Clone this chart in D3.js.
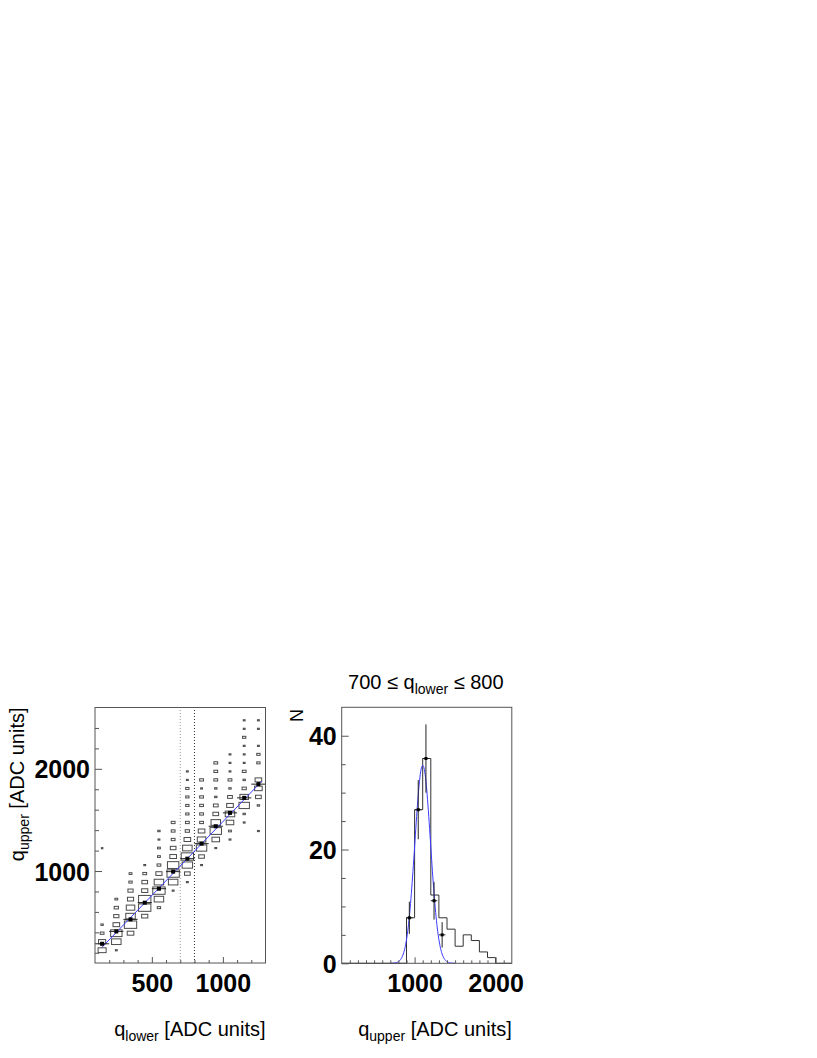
<!DOCTYPE html>
<html><head><meta charset="utf-8">
<script src="https://cdn.jsdelivr.net/npm/d3@7"></script>
<style>body{margin:0;background:#fff}</style>
</head><body>
<svg id="c" width="817" height="1058"></svg>
<script>
// ---------- data: left panel (2D box histogram) ----------
const xBinsLeft = [150, 250, 350, 450, 550, 650, 750, 850, 950, 1050, 1150, 1250];
const yBinCount = 30;                 // q_upper bins from 100 to 2600
// per x-bin: [yBinIndex, content]
const cellCounts = [
  [[1,17],[2,15],[3,8],[4,5],[13,3]],
  [[1,4],[2,20],[3,24],[4,14],[5,11],[6,9],[7,6]],
  [[3,14],[4,26],[5,20],[6,18],[7,13],[8,11],[9,7],[10,6]],
  [[5,13],[6,26],[7,26],[8,13],[9,12],[10,8],[11,4]],
  [[6,7],[7,20],[8,26],[9,20],[10,13],[11,8],[12,6],[13,6],[14,4],[15,5]],
  [[8,4],[9,20],[10,26],[11,24],[12,14],[13,12],[14,8],[15,8],[16,8]],
  [[9,4],[10,12],[11,22],[12,26],[13,20],[14,14],[15,9],[16,8],[17,7],[18,7],[19,7],[20,7],[21,4],[22,4]],
  [[11,4],[12,12],[13,22],[14,18],[15,14],[16,8],[17,8],[18,8],[19,8],[20,4],[21,8]],
  [[13,4],[14,16],[15,24],[16,20],[17,12],[18,10],[19,5],[20,5],[21,8],[22,8],[23,8]],
  [[14,4],[15,6],[16,16],[17,20],[18,14],[19,10],[20,5],[21,8],[22,4],[23,4],[24,4]],
  [[16,4],[17,5],[18,22],[19,18],[20,9],[21,5],[22,8],[23,4],[24,4],[25,4],[26,7],[27,4],[28,4]],
  [[15,4],[18,5],[19,12],[20,16],[21,14],[23,7],[24,7],[25,4],[27,4],[28,4]]
];
const profileMeans = [288, 409, 527, 690, 827, 994, 1121, 1268, 1438, 1569, 1716, 1850];
const fitIntercept = 38, fitSlope = 1.445, fitRange = [150, 1275];
const sliceLimits = [700, 800];
const leftXTickLabels = [500, 1000];
const leftYTickLabels = [1000, 2000];

// ---------- data: right panel (1D histogram of the slice) ----------
const histEdgesStart = 100, histBinWidth = 100;
const histCounts = [0,0,0,0,0,0,0,0,8,27,36,12,8,6,3,5,4,2,1,0,0];
const pointsX = [935, 1045, 1140, 1240, 1340];
const pointsY = [8, 27, 36, 11, 5];
const gaussAmp = 34.8, gaussMean = 1100, gaussSigma = 97, gaussRange = [700, 1500];
const rightXTickLabels = [1000, 2000];
const rightYTickLabels = [0, 20, 40];

// ---------- drawing ----------
const svg = d3.select("#c");
const FONT = "'Liberation Sans', Arial, Helvetica, sans-serif";
const frameColor = "#555";

function ticks(g, scale, orient, values, len, labels, labelFmt) {
  const ax = (orient === "bottom" ? d3.axisBottom(scale) : d3.axisLeft(scale))
    .tickValues(values).tickSize(-len).tickFormat(labels ? labelFmt : "");
  g.call(ax);
  g.select(".domain").remove();
  g.selectAll("line").attr("stroke", frameColor);
  g.selectAll("text").attr("fill", "#000").attr("font-family", FONT)
    .attr("font-weight", "bold").attr("font-size", 25);
  return g;
}

// ===== LEFT PANEL =====
const xL = d3.scaleLinear().domain([100, 1300]).range([95, 265.5]);
const yL = d3.scaleLinear().domain([100, 2600]).range([963, 707.5]);
const yBinW = 2500 / yBinCount;
const L = svg.append("g");

// boxes
const cMax = 30;
const bw = xL(200) - xL(100), bh = yL(100) - yL(100 + yBinW);
const cells = [];
cellCounts.forEach((col, i) => col.forEach(([k, c]) => cells.push({x: xBinsLeft[i], k, c})));
L.append("g").selectAll("rect").data(cells).join("rect")
  .attr("x", d => xL(d.x) - bw * d.c / cMax / 2)
  .attr("y", d => yL(100 + (d.k + 0.5) * yBinW) - bh * d.c / cMax / 2)
  .attr("width", d => Math.max(1.5, bw * d.c / cMax))
  .attr("height", d => Math.max(1.2, bh * d.c / cMax))
  .attr("fill", "none").attr("stroke", "#4a4a4a").attr("stroke-width", 1);

// slice lines
L.append("line").attr("x1", xL(sliceLimits[0])).attr("x2", xL(sliceLimits[0]))
  .attr("y1", yL(100)).attr("y2", yL(2600)).attr("stroke", "#999").attr("stroke-dasharray", "1,2");
L.append("line").attr("x1", xL(sliceLimits[1])).attr("x2", xL(sliceLimits[1]))
  .attr("y1", yL(100)).attr("y2", yL(2600)).attr("stroke", "#333").attr("stroke-dasharray", "1,2");

// fit line
L.append("line").attr("x1", xL(fitRange[0])).attr("y1", yL(fitIntercept + fitSlope * fitRange[0]))
  .attr("x2", xL(fitRange[1])).attr("y2", yL(fitIntercept + fitSlope * fitRange[1]))
  .attr("stroke", "#3a3aff").attr("stroke-width", 1);

// profile points
const prof = xBinsLeft.map((x, i) => ({x, y: profileMeans[i]}));
L.append("g").selectAll("line").data(prof).join("line")
  .attr("x1", d => xL(d.x - 50)).attr("x2", d => xL(d.x + 50))
  .attr("y1", d => yL(d.y)).attr("y2", d => yL(d.y)).attr("stroke", "#222");
L.append("g").selectAll("rect").data(prof).join("rect")
  .attr("x", d => xL(d.x) - 2).attr("y", d => yL(d.y) - 2).attr("width", 4).attr("height", 4)
  .attr("fill", "#000");

// frame
L.append("rect").attr("x", xL(100)).attr("y", yL(2600))
  .attr("width", xL(1300) - xL(100)).attr("height", yL(100) - yL(2600))
  .attr("fill", "none").attr("stroke", frameColor);

// ticks
ticks(L.append("g").attr("transform", `translate(0,${yL(100)})`), xL, "bottom",
  d3.range(200, 1300, 100).filter(v => !leftXTickLabels.includes(v)), 3, false);
const lx = ticks(L.append("g").attr("transform", `translate(0,${yL(100)})`), xL, "bottom",
  leftXTickLabels, 6, true, d3.format("d"));
lx.selectAll("text").attr("y", 29).attr("dy", 0);
ticks(L.append("g").attr("transform", `translate(${xL(100)},0)`), yL, "left",
  d3.range(200, 2600, 200).filter(v => !leftYTickLabels.includes(v)), 4, false);
const ly = ticks(L.append("g").attr("transform", `translate(${xL(100)},0)`), yL, "left",
  leftYTickLabels, 7, true, d3.format("d"));
ly.selectAll("text").attr("x", -5).attr("dy", "0.36em");

// titles
const xtL = L.append("text").attr("x", xL(1300)).attr("y", 1036).attr("text-anchor", "end")
  .attr("font-family", FONT).attr("font-size", 20);
xtL.append("tspan").text("q");
xtL.append("tspan").attr("font-size", 14).attr("dy", 5).text("lower");
xtL.append("tspan").attr("dy", -5).text(" [ADC units]");

const ytL = L.append("text").attr("transform", `translate(24,${yL(2600)}) rotate(-90)`)
  .attr("text-anchor", "end").attr("font-family", FONT).attr("font-size", 20);
ytL.append("tspan").text("q");
ytL.append("tspan").attr("font-size", 14).attr("dy", 5).text("upper");
ytL.append("tspan").attr("dy", -5).text(" [ADC units]");

// ===== RIGHT PANEL =====
const xR = d3.scaleLinear().domain([100, 2200]).range([341.7, 511.8]);
const yR = d3.scaleLinear().domain([0, 45]).range([963.3, 707.3]);
const R = svg.append("g");

// histogram step outline
const stepPts = [];
histCounts.forEach((c, i) => {
  const x0 = histEdgesStart + i * histBinWidth;
  stepPts.push([x0, c], [x0 + histBinWidth, c]);
});
R.append("path").attr("d", d3.line().x(d => xR(d[0])).y(d => yR(d[1]))(stepPts))
  .attr("fill", "none").attr("stroke", "#333").attr("stroke-width", 1);

// gaussian fit
const gx = d3.range(gaussRange[0], gaussRange[1] + 1, 5);
R.append("path").attr("d", d3.line().x(d => xR(d)).y(d => yR(gaussAmp * Math.exp(-0.5 * ((d - gaussMean) / gaussSigma) ** 2)))(gx))
  .attr("fill", "none").attr("stroke", "#3a3aff").attr("stroke-width", 1);

// data points with errors
const pts = pointsX.map((x, i) => ({x, y: pointsY[i], e: Math.sqrt(pointsY[i])}));
R.append("g").selectAll("line").data(pts).join("line")
  .attr("x1", d => xR(d.x)).attr("x2", d => xR(d.x))
  .attr("y1", d => yR(d.y - d.e)).attr("y2", d => yR(d.y + d.e)).attr("stroke", "#222");
R.append("g").selectAll("line").data(pts).join("line")
  .attr("x1", d => xR(d.x - 40)).attr("x2", d => xR(d.x + 40))
  .attr("y1", d => yR(d.y)).attr("y2", d => yR(d.y)).attr("stroke", "#222");
R.append("g").selectAll("rect").data(pts).join("rect")
  .attr("x", d => xR(d.x) - 1.5).attr("y", d => yR(d.y) - 1.5).attr("width", 3).attr("height", 3)
  .attr("fill", "#000");

// frame
R.append("rect").attr("x", xR(100)).attr("y", yR(45))
  .attr("width", xR(2200) - xR(100)).attr("height", yR(0) - yR(45))
  .attr("fill", "none").attr("stroke", frameColor);

ticks(R.append("g").attr("transform", `translate(0,${yR(0)})`), xR, "bottom",
  d3.range(200, 2200, 100).filter(v => !rightXTickLabels.includes(v)), 3, false);
const rx = ticks(R.append("g").attr("transform", `translate(0,${yR(0)})`), xR, "bottom",
  rightXTickLabels, 6, true, d3.format("d"));
rx.selectAll("text").attr("y", 29).attr("dy", 0);
ticks(R.append("g").attr("transform", `translate(${xR(100)},0)`), yR, "left",
  d3.range(5, 45, 5).filter(v => !rightYTickLabels.includes(v)), 4, false);
const ry = ticks(R.append("g").attr("transform", `translate(${xR(100)},0)`), yR, "left",
  rightYTickLabels, 7, true, d3.format("d"));
ry.selectAll("text").attr("x", -5).attr("dy", "0.36em");

const xtR = R.append("text").attr("x", xR(2200)).attr("y", 1036).attr("text-anchor", "end")
  .attr("font-family", FONT).attr("font-size", 20);
xtR.append("tspan").text("q");
xtR.append("tspan").attr("font-size", 14).attr("dy", 5).text("upper");
xtR.append("tspan").attr("dy", -5).text(" [ADC units]");

R.append("text").attr("transform", `translate(303,709) rotate(-90)`)
  .attr("text-anchor", "end").attr("font-family", FONT).attr("font-size", 18).text("N");

const tt = R.append("text").attr("x", 425.8).attr("y", 689.3).attr("text-anchor", "middle")
  .attr("font-family", FONT).attr("font-size", 20);
tt.append("tspan").text("700 \u2264 q");
tt.append("tspan").attr("font-size", 14).attr("dy", 5).text("lower");
tt.append("tspan").attr("dy", -5).text(" \u2264 800");
</script>
</body></html>
